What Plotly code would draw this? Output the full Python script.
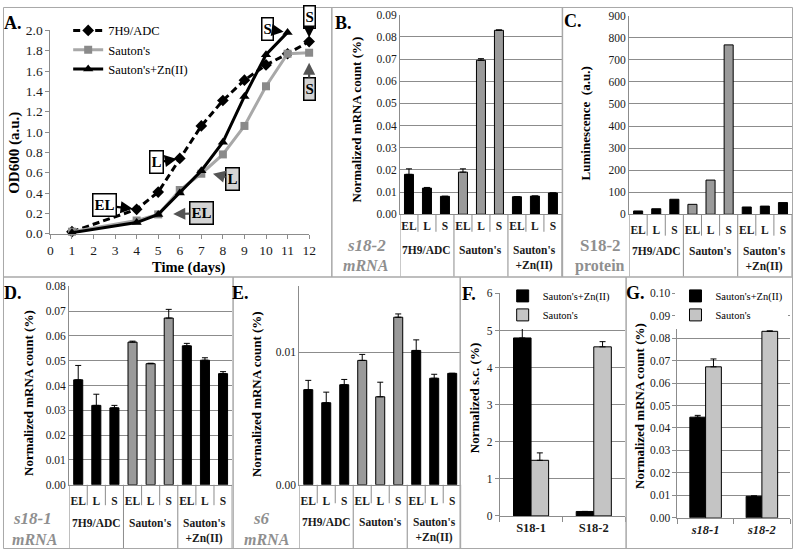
import plotly.graph_objects as go

W, H = 800, 557

# ---------------- data ----------------
# Panel A: growth curves, OD600 (a.u.) vs time (days)
days = [1, 4, 5, 6, 7, 8, 9, 10, 11, 12]
od_7h9 = [0.02, 0.24, 0.41, 0.74, 1.06, 1.31, 1.51, 1.66, 1.77, 1.89]
od_sauton = [0.02, 0.13, 0.19, 0.43, 0.59, 0.78, 1.06, 1.45, 1.77, 1.78]
days_zn = [1, 4, 5, 6, 7, 8, 9, 10, 11]
od_zn = [0.01, 0.11, 0.19, 0.40, 0.62, 0.90, 1.35, 1.76, 1.98]
series_names = ["7H9/ADC", "Sauton's", "Sauton's+Zn(II)"]
day_ticks = list(range(0, 13))

# shared category structure for panels B-E
stages = ["EL", "L", "S"]
media = ["7H9/ADC", "Sauton's", "Sauton's<br>+Zn(II)"]

# Panel B: s18-2 mRNA
s18_2_mrna = [0.0180, 0.0118, 0.0081, 0.0190, 0.0695, 0.0830, 0.0079, 0.0082, 0.0096]
s18_2_mrna_err = [0.0025, 0.0003, 0.0, 0.0015, 0.0007, 0.0002, 0.0, 0.0, 0.0]
# Panel C: S18-2 protein luminescence
s18_2_lum = [15, 25, 68, 45, 155, 768, 33, 37, 53]
# Panel D: s18-1 mRNA
s18_1_mrna = [0.0423, 0.0320, 0.0310, 0.0575, 0.0488, 0.0672, 0.0560, 0.0502, 0.0448]
s18_1_mrna_err = [0.0058, 0.0045, 0.0010, 0.0004, 0.0002, 0.0035, 0.0010, 0.0010, 0.0008]
# Panel E: s6 mRNA
s6_mrna = [0.00719, 0.00620, 0.00756, 0.00940, 0.00665, 0.01266, 0.01015, 0.00805, 0.00842]
s6_mrna_err = [0.0007, 0.0008, 0.0004, 0.00045, 0.0011, 0.00025, 0.0008, 0.0003, 0.0]
# Panel F: normalized s.c.
proteins = ["S18-1", "S18-2"]
sc_zn = [4.80, 0.12]
sc_zn_err = [0.30, 0.0]
sc_sauton = [1.50, 4.56]
sc_sauton_err = [0.20, 0.14]
# Panel G: normalized mRNA
genes = ["s18-1", "s18-2"]
g_zn = [0.0448, 0.0096]
g_zn_err = [0.0008, 0.0002]
g_sauton = [0.0672, 0.0830]
g_sauton_err = [0.0035, 0.0002]
fg_names = ["Sauton's+Zn(II)", "Sauton's"]

# ---------------- styling ----------------
FONT = "Liberation Serif, Times New Roman, serif"
GRID = "#8c8c8c"
DIV = "#a8a8a8"
GRAY_BAR = "#9a9a9a"
LIGHT_BAR = "#c4c4c4"
LABEL_GRAY = "#8f8f8f"
TXT = "#1a1a1a"

def fx(px):
    return px / W

def fy(py):
    return 1 - py / H

# plot-area boxes in pixels: left, right, top, bottom
boxes = {
    "": (48, 310, 24, 233),
    "2": (402, 566, 8, 213),
    "3": (634, 799, 9, 213),
    "4": (67, 232, 287, 491),
    "5": (300, 464, 287, 491),
    "6": (503, 630, 294, 523),
    "7": (683, 797, 294, 525),
}

fig = go.Figure()
ann = []
shapes = []

def set_axes(k, xa, ya):
    l, r, t, b = boxes[k]
    fig.update_layout(**{
        "xaxis" + k: dict(domain=[fx(l), fx(r)], anchor="y" + k, **xa),
        "yaxis" + k: dict(domain=[fy(b), fy(t)], anchor="x" + k, **ya),
    })

def text(x, y, s, size, color="black", angle=0, xanchor="center", yanchor="middle"):
    ann.append(dict(x=fx(x), y=fy(y), xref="paper", yref="paper", text=s, showarrow=False,
                    textangle=angle, xanchor=xanchor, yanchor=yanchor,
                    font=dict(family=FONT, size=size, color=color)))

# ---------------- Panel A ----------------
fig.add_trace(go.Scatter(x=days, y=od_7h9, name=series_names[0], mode="lines+markers",
                         line=dict(color="black", width=3, dash="7px,4px"),
                         marker=dict(symbol="diamond", size=9, color="black"),
                         cliponaxis=False, xaxis="x", yaxis="y", legend="legend"))
fig.add_trace(go.Scatter(x=days, y=od_sauton, name=series_names[1], mode="lines+markers",
                         line=dict(color="#a8a8a8", width=3),
                         marker=dict(symbol="square", size=8, color="#8a8a8a"),
                         cliponaxis=False, xaxis="x", yaxis="y", legend="legend"))
fig.add_trace(go.Scatter(x=days_zn, y=od_zn, name=series_names[2], mode="lines+markers",
                         line=dict(color="black", width=3),
                         marker=dict(symbol="triangle-up", size=9, color="black"),
                         cliponaxis=False, xaxis="x", yaxis="y", legend="legend"))

set_axes("",
         dict(range=[0, 12], tickvals=day_ticks, ticks="outside", ticklen=4, tickcolor=GRID,
              showline=True, linecolor=GRID, showgrid=False, zeroline=False,
              tickfont=dict(family=FONT, size=13.5, color=TXT)),
         dict(range=[0, 2.0], dtick=0.2, tickformat=".1f", ticks="outside", ticklen=4, tickcolor=GRID,
              showline=True, linecolor=GRID, showgrid=False, zeroline=False,
              tickfont=dict(family=FONT, size=13.5, color=TXT)))

text(12, 150, "<b>OD600 (a.u.)</b>", 15, angle=-90)
text(188, 268, "<b>Time (days)</b>", 14.5)
text(10, 16, "<b>A.</b>", 18)

# callouts pointing at growth-phase samples
def callout(label, xs, ys, day, ax, ay, fill, standoff):
    i = xs.index(day)
    ann.append(dict(x=xs[i], y=ys[i], xref="x", yref="y", text="<b>" + label + "</b>",
                    showarrow=True, ax=ax, ay=ay, standoff=standoff,
                    arrowhead=2, arrowsize=1.1, arrowwidth=2.2,
                    arrowcolor="black" if fill == "white" else "#555555",
                    bgcolor=fill, bordercolor="black", borderwidth=1.5, borderpad=1,
                    height=19,
                    font=dict(family=FONT, size=15, color="black")))

callout(stages[0], days, od_7h9, 4, -32, -4, "white", 4)
callout(stages[1], days, od_7h9, 6, -23, 4, "white", 3)
callout(stages[1], days_zn, od_zn, 7, 31, 8, "#d4d4d4", 12)
callout(stages[0], days_zn, od_zn, 5, 43, -1, "#d4d4d4", 15)
callout(stages[2], days_zn, od_zn, 11, -20, -3, "white", 4)
callout(stages[2], days, od_7h9, 12, 0, -25, "white", 4)
callout(stages[2], days, od_sauton, 12, 0, 36, "#d4d4d4", 10)

# ---------------- Panels B-E ----------------
n_st = len(stages)

def bar_panel(k, values, errs, yrange, dtick, tickfmt, lab_len, inner_len, group_gap, bottom_px):
    l, r, t, b = boxes[k]
    pos = list(range(len(values)))
    colors = [GRAY_BAR if m == "Sauton's" else "black" for m in media for _ in stages]
    err = None
    if errs is not None:
        err = dict(type="data", symmetric=False, array=errs, arrayminus=[0] * len(errs),
                   color="black", thickness=1, width=3)
    fig.add_trace(go.Bar(x=pos, y=values, width=0.5,
                         marker=dict(color=colors, line=dict(color="black", width=1)),
                         error_y=err, xaxis="x" + k, yaxis="y" + k, showlegend=False))
    set_axes(k,
             dict(range=[-0.5, len(values) - 0.5], tickvals=pos,
                  ticktext=["<b>" + s + "</b>" for _ in media for s in stages],
                  ticks="outside", ticklen=lab_len, tickcolor="rgba(0,0,0,0)",
                  showline=True, linecolor=GRID, showgrid=False, zeroline=False,
                  tickfont=dict(family=FONT, size=11.5, color=TXT)),
             dict(range=yrange, dtick=dtick, tickformat=tickfmt, showline=True, linecolor=GRID,
                  showgrid=True, gridcolor=GRID, gridwidth=1, zeroline=False, ticks="",
                  tickfont=dict(family=FONT, size=11.5, color=TXT)))
    # group labels
    for gi, m in enumerate(media):
        xc = gi * n_st + (n_st - 1) / 2
        ann.append(dict(x=xc, y=fy(b + group_gap), xref="x" + k, yref="paper", text="<b>" + m + "</b>",
                        showarrow=False, yanchor="top", xanchor="center",
                        font=dict(family=FONT, size=11.5, color=TXT)))
    # separators of the two-level category axis
    for bi in range(len(values) + 1):
        xp = bi - 0.5
        y_end = bottom_px if bi % n_st == 0 else b + inner_len
        shapes.append(dict(type="line", xref="x" + k, yref="paper", x0=xp, x1=xp,
                           y0=fy(b), y1=fy(y_end), line=dict(color=GRID, width=1)))

bar_panel("2", s18_2_mrna, s18_2_mrna_err, [0, 0.09001], 0.01, ".2f", 1, 18, 28, 277)
bar_panel("3", s18_2_lum, None, [0, 900.1], 100, "d", 5, 22, 30, 277)
bar_panel("4", s18_1_mrna, s18_1_mrna_err, [0, 0.08001], 0.01, ".2f", 5, 21, 31, 557)
bar_panel("5", s6_mrna, s6_mrna_err, [0, 0.015], 0.01, ".2f", 5, 19, 30, 557)

# titles and labels for B-E
text(358, 116, "<b>Normalized mRNA count (%)</b>", 13, angle=-90)
text(345, 16, "<b>B.</b>", 18)
text(368, 245, "<b><i>s18-2</i></b>", 17, color=LABEL_GRAY)
text(368, 266, "<b><i>mRNA</i></b>", 16, color=LABEL_GRAY)

text(590, 120, "<b>Luminescence  (a.u.)</b>", 13, angle=-90)
text(577, 14, "<b>C.</b>", 18)
text(605, 245, "<b>S18-2</b>", 17, color=LABEL_GRAY)
text(605, 266, "<b>protein</b>", 16, color=LABEL_GRAY)

text(26, 397, "<b>Normalized mRNA count (%)</b>", 13, angle=-90)
text(10, 294, "<b>D.</b>", 18)
text(30, 526, "<b><i>s18-1</i></b>", 17, color=LABEL_GRAY)
text(32, 547, "<b><i>mRNA</i></b>", 16, color=LABEL_GRAY)

text(256, 398, "<b>Normalized mRNA count (%)</b>", 13, angle=-90)
text(240, 294, "<b>E.</b>", 18)
text(262, 526, "<b><i>s6</i></b>", 17, color=LABEL_GRAY)
text(267, 547, "<b><i>mRNA</i></b>", 16, color=LABEL_GRAY)

# ---------------- Panels F and G ----------------
def pair_panel(k, cats, ticktext, zn, zn_err, sa, sa_err, yrange, dtick, tickfmt, legend_name):
    bw = 0.28
    fig.add_trace(go.Bar(x=cats, y=zn, name=fg_names[0], width=bw, offset=-bw,
                         marker=dict(color="black", line=dict(color="black", width=1)),
                         error_y=dict(type="data", symmetric=False, array=zn_err, arrayminus=[0] * len(zn),
                                      color="black", thickness=1, width=3),
                         xaxis="x" + k, yaxis="y" + k, legend=legend_name))
    fig.add_trace(go.Bar(x=cats, y=sa, name=fg_names[1], width=bw, offset=0,
                         marker=dict(color=LIGHT_BAR, line=dict(color="black", width=1)),
                         error_y=dict(type="data", symmetric=False, array=sa_err, arrayminus=[0] * len(sa),
                                      color="black", thickness=1, width=3),
                         xaxis="x" + k, yaxis="y" + k, legend=legend_name))
    set_axes(k,
             dict(type="category", range=[-0.5, len(cats) - 0.5], tickvals=cats, ticktext=ticktext,
                  tickson="boundaries", ticks="outside", ticklen=5, tickcolor=GRID,
                  showline=True, linecolor=GRID, showgrid=False, zeroline=False,
                  tickfont=dict(family=FONT, size=12.5, color=TXT)),
             dict(range=yrange, dtick=dtick, tickformat=tickfmt, ticks="outside", ticklen=4, tickcolor=GRID,
                  showline=True, linecolor=GRID, showgrid=True, gridcolor=GRID, zeroline=False,
                  tickfont=dict(family=FONT, size=11.5, color=TXT)))

pair_panel("6", proteins, ["<b>" + p + "</b>" for p in proteins], sc_zn, sc_zn_err,
           sc_sauton, sc_sauton_err, [0, 6.01], 1, "d", "legend2")
pair_panel("7", genes, ["<b><i>" + g + "</i></b>" for g in genes], g_zn, g_zn_err,
           g_sauton, g_sauton_err, [0, 0.10001], 0.01, ".2f", "legend3")

text(477, 402, "<b>Normalized s.c. (%)</b>", 13, angle=-90)
text(472, 295, "<b>F.</b>", 18)
text(645, 410, "<b>Normalized mRNA count (%)</b>", 13, angle=-90)
text(640, 294, "<b>G.</b>", 18)

# ---------------- panel dividers ----------------
def seg(x0, y0, x1, y1):
    shapes.append(dict(type="line", xref="paper", yref="paper", x0=fx(x0), y0=fy(y0),
                       x1=fx(x1), y1=fy(y1), line=dict(color=DIV, width=1.5)))

seg(0, 277.5, 800, 277.5)
seg(333, 0, 333, 277.5)
seg(566.5, 0, 566.5, 277.5)
seg(233, 277.5, 233, 557)
seg(463, 277.5, 463, 557)
seg(631, 277.5, 631, 557)
shapes.append(dict(type="rect", xref="paper", yref="paper", x0=fx(0.5), y0=fy(556.5), x1=fx(799.5),
                   y1=fy(0.5), line=dict(color=DIV, width=1)))

fig.update_layout(
    width=W, height=H, margin=dict(l=0, r=0, t=0, b=0),
    paper_bgcolor="white", plot_bgcolor="white",
    barmode="overlay",
    font=dict(family=FONT, color=TXT),
    annotations=ann, shapes=shapes,
    legend=dict(x=fx(66), y=fy(9), xanchor="left", yanchor="top", bgcolor="rgba(0,0,0,0)",
                font=dict(family=FONT, size=12.5, color="black"), tracegroupgap=0),
    legend2=dict(x=fx(506), y=fy(282), xanchor="left", yanchor="top", bgcolor="white",
                 font=dict(family=FONT, size=10.5, color="black"), tracegroupgap=0),
    legend3=dict(x=fx(681), y=fy(282), xanchor="left", yanchor="top", bgcolor="white",
                 font=dict(family=FONT, size=10.5, color="black"), tracegroupgap=0),
)

# place the figure flush with the page's top-left corner (no default body margin), no mode bar
fig.write_html("out.html", config={"displayModeBar": False},
               post_script="document.body.style.margin='0px';")
